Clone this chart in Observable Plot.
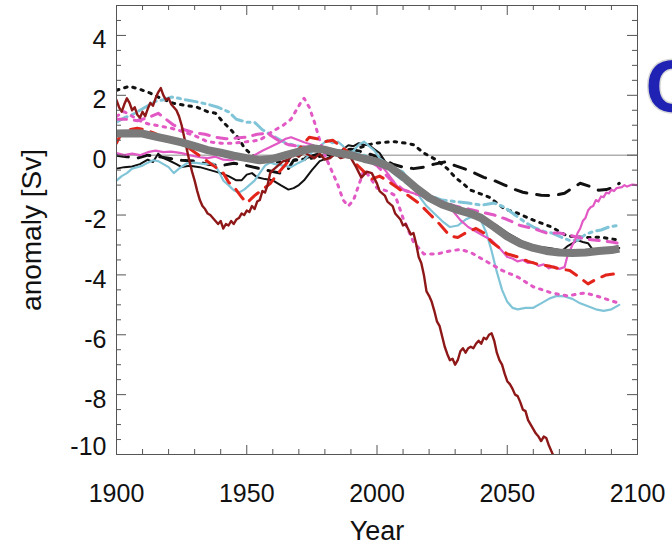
<!DOCTYPE html>
<html>
<head>
<meta charset="utf-8">
<script src="https://cdn.jsdelivr.net/npm/d3@7"></script>
<script src="https://cdn.jsdelivr.net/npm/@observablehq/plot@0.6"></script>
<style>
  html, body { margin: 0; padding: 0; background: #fff; }
  #chart { width: 672px; height: 544px; }
</style>
</head>
<body>
<div id="chart"></div>
<script>
// ---- data: [year, anomaly Sv] ----
const darkRedSolid = [
  [1900,1.84],[1901,1.6],[1902,1.45],[1903,1.7],[1904,1.9],[1905,1.75],[1906,1.5],[1907,1.6],[1908,1.35],[1909,1.25],
  [1910,1.45],[1911,1.3],[1912,1.55],[1913,1.75],[1914,1.65],[1915,1.9],[1916,2.1],[1917,2.24],[1918,2.0],[1919,1.85],
  [1920,1.9],[1921,1.7],[1922,1.6],[1923,1.5],[1924,1.3],[1925,1.0],[1926,0.6],[1927,0.2],[1928,-0.2],[1929,-0.55],
  [1930,-0.85],[1931,-1.2],[1932,-1.5],[1933,-1.7],[1934,-1.8],[1935,-1.95],[1936,-2.0],[1937,-2.1],[1938,-2.2],[1939,-2.3],
  [1940,-2.2],[1941,-2.45],[1942,-2.3],[1943,-2.35],[1944,-2.2],[1945,-2.3],[1946,-2.15],[1947,-2.1],[1948,-1.95],[1949,-2.0],
  [1950,-1.85],[1951,-1.9],[1952,-1.7],[1953,-1.8],[1954,-1.55],[1955,-1.5],[1956,-1.2],[1957,-1.25],[1958,-1.0],[1959,-0.6],
  [1960,-0.5],[1962,-0.35],[1964,-0.2],[1966,-0.15],[1968,0.05],[1970,-0.05],[1972,0.1],[1974,0.0],[1976,-0.1],[1978,0.05],
  [1980,-0.15],[1982,-0.1],[1984,0.05],[1986,-0.1],[1988,-0.05],[1990,-0.1],[1992,-0.4],[1994,-0.75],[1996,-0.55],[1998,-0.6],
  [2000,-0.95],[2001,-1.2],[2003,-1.35],[2004,-1.55],[2006,-1.7],[2007,-1.95],[2009,-2.15],[2010,-2.35],[2011,-2.3],[2013,-2.65],
  [2014,-2.6],[2015,-2.95],[2016,-3.4],[2017,-3.6],[2018,-4.0],[2019,-4.55],[2020,-4.7],[2021,-4.9],[2022,-5.2],[2023,-5.55],
  [2024,-5.7],[2025,-6.05],[2026,-6.4],[2027,-6.65],[2028,-6.85],[2029,-6.8],[2030,-7.0],[2031,-6.85],[2032,-6.55],[2033,-6.45],
  [2034,-6.6],[2035,-6.45],[2036,-6.4],[2037,-6.45],[2038,-6.3],[2039,-6.2],[2040,-6.3],[2041,-6.1],[2042,-6.15],[2043,-6.0],
  [2044,-5.95],[2045,-6.2],[2046,-6.6],[2047,-6.85],[2048,-7.0],[2049,-7.3],[2050,-7.55],[2051,-7.65],[2052,-7.8],[2053,-8.0],
  [2054,-8.05],[2055,-8.25],[2056,-8.5],[2057,-8.55],[2058,-8.85],[2059,-9.0],[2060,-9.15],[2061,-9.3],[2062,-9.4],[2063,-9.55],
  [2064,-9.4],[2065,-9.45],[2066,-9.7],[2067,-9.9],[2068,-10.1],[2069,-10.4]
];
const redDashed = [
  [1900,0.4],[1902,0.75],[1905,0.85],[1908,0.9],[1911,0.85],[1914,0.75],[1918,0.6],[1922,0.5],[1926,0.35],[1930,0.1],
  [1934,-0.15],[1938,-0.4],[1941,-0.6],[1943,-0.9],[1945,-1.05],[1948,-1.4],[1950,-1.6],[1953,-1.35],[1956,-1.15],[1959,-0.95],
  [1962,-0.6],[1965,-0.3],[1968,0.0],[1971,0.3],[1974,0.6],[1977,0.55],[1980,0.45],[1983,0.5],[1986,0.3],[1989,0.1],
  [1992,-0.3],[1995,-0.55],[1998,-0.8],[2001,-0.7],[2004,-0.85],[2008,-1.1],[2012,-1.35],[2016,-1.6],[2020,-1.95],[2024,-2.3],
  [2028,-2.7],[2031,-2.75],[2035,-2.55],[2038,-2.45],[2041,-2.6],[2044,-2.9],[2047,-3.1],[2050,-3.3],[2054,-3.4],[2058,-3.55],
  [2062,-3.65],[2066,-3.7],[2070,-3.8],[2074,-3.85],[2078,-4.1],[2081,-4.3],[2084,-4.15],[2088,-4.0],[2093,-3.95]
];
const blueSolid = [
  [1900,-0.85],[1902,-0.7],[1904,-0.6],[1906,-0.45],[1908,-0.4],[1910,-0.35],[1912,-0.25],[1914,-0.17],[1916,-0.2],[1918,-0.3],
  [1920,-0.4],[1922,-0.6],[1924,-0.45],[1927,-0.27],[1930,-0.25],[1934,-0.3],[1937,-0.27],[1939,-0.5],[1941,-0.85],[1943,-1.0],
  [1945,-1.17],[1947,-1.25],[1949,-1.15],[1951,-1.0],[1953,-0.85],[1955,-0.6],[1957,-0.35],[1959,-0.25],[1961,-0.3],[1964,-0.35],
  [1967,-0.4],[1970,-0.25],[1972,-0.17],[1975,0.1],[1978,0.3],[1981,0.5],[1983,0.4],[1985,0.45],[1987,0.3],[1989,0.05],
  [1991,0.15],[1993,0.35],[1995,0.45],[1997,0.3],[1999,0.15],[2001,-0.1],[2004,-0.3],[2007,-0.45],[2010,-0.55],[2013,-0.95],
  [2016,-1.35],[2019,-1.7],[2022,-1.95],[2025,-2.2],[2028,-2.4],[2031,-2.35],[2034,-2.15],[2036,-2.07],[2038,-2.1],[2040,-2.2],
  [2042,-2.6],[2044,-3.2],[2046,-3.9],[2048,-4.5],[2050,-4.9],[2052,-5.1],[2054,-5.15],[2057,-5.1],[2060,-5.1],[2063,-4.95],
  [2066,-4.8],[2069,-4.7],[2072,-4.72],[2075,-4.8],[2078,-4.95],[2081,-5.05],[2084,-5.15],[2087,-5.2],[2090,-5.15],[2093,-5.0]
];
const blueDashDot = [
  [1900,1.1],[1903,1.25],[1906,1.35],[1909,1.5],[1912,1.65],[1915,1.8],[1918,1.85],[1921,1.94],[1924,1.9],[1927,1.84],
  [1931,1.78],[1935,1.7],[1939,1.6],[1943,1.45],[1946,1.2],[1950,1.1],[1953,1.1],[1956,0.85],[1959,0.7],[1962,0.55],
  [1965,0.4],[1970,0.3],[1975,0.2],[1980,0.25],[1985,0.15],[1990,0.1],[1995,0.0],[2000,-0.2],[2005,-0.5],[2010,-0.85],
  [2015,-1.15],[2020,-1.35],[2025,-1.5],[2030,-1.55],[2035,-1.6],[2040,-1.67],[2045,-1.6],[2049,-1.74],[2053,-2.0],[2057,-2.25],
  [2060,-2.4],[2064,-2.55],[2067,-2.6],[2071,-2.75],[2074,-2.85],[2077,-2.84],[2080,-2.65],[2083,-2.55],[2086,-2.5],[2089,-2.4],
  [2093,-2.34]
];
const magentaSolid = [
  [1900,0.07],[1903,0.0],[1906,0.05],[1909,0.0],[1912,0.1],[1915,0.15],[1918,0.1],[1921,0.12],[1925,0.07],[1928,0.0],
  [1932,-0.07],[1935,-0.1],[1938,-0.05],[1941,-0.15],[1944,-0.17],[1947,-0.1],[1950,-0.15],[1953,0.0],[1956,0.15],[1959,0.27],
  [1962,0.4],[1965,0.55],[1967,0.6],[1970,0.5],[1972,0.43],[1975,0.35],[1977,0.27],[1980,0.2],[1983,0.1],[1986,0.07],
  [1989,0.1],[1992,0.0],[1995,-0.05],[1998,-0.1],[2001,-0.27],[2004,-0.6],[2008,-1.07],[2011,-1.2],[2014,-1.27],[2017,-1.35],
  [2020,-1.5],[2023,-1.6],[2026,-1.7],[2029,-1.85],[2032,-2.17],[2035,-2.4],[2038,-2.55],[2041,-2.7],[2044,-2.84],[2047,-3.1],
  [2050,-3.4],[2052,-3.45],[2054,-3.55],[2056,-3.5],[2058,-3.6],[2060,-3.58],[2062,-3.7],[2064,-3.65],[2066,-3.78],[2068,-3.72],
  [2070,-3.8],[2072,-3.74],[2073,-3.4],[2074,-3.2],[2075,-3.0],[2076,-2.85],[2077,-2.6],[2078,-2.45],[2079,-2.2],[2080,-2.1],
  [2081,-1.85],[2082,-1.74],[2083,-1.7],[2084,-1.5],[2085,-1.55],[2086,-1.38],[2087,-1.4],[2088,-1.25],[2089,-1.28],[2090,-1.15],
  [2091,-1.2],[2092,-1.1],[2094,-1.07],[2095,-1.0],[2096,-1.05],[2098,-0.98],[2100,-1.0]
];
const magentaDotted = [
  [1900,1.3],[1903,1.45],[1906,1.3],[1909,1.15],[1912,1.05],[1915,1.0],[1918,0.95],[1921,0.9],[1925,0.8],[1930,0.65],
  [1935,0.45],[1940,0.4],[1945,0.4],[1950,0.45],[1955,0.5],[1960,0.8],[1964,1.0],[1967,1.2],[1969,1.5],[1971,1.8],
  [1972,1.9],[1974,1.6],[1976,1.1],[1978,0.5],[1980,0.0],[1982,-0.4],[1985,-1.0],[1987,-1.5],[1989,-1.7],[1991,-1.5],
  [1993,-1.0],[1995,-0.5],[1997,-0.7],[2000,-1.1],[2004,-1.2],[2007,-1.35],[2010,-2.1],[2014,-2.9],[2018,-3.3],[2023,-3.3],
  [2028,-3.2],[2032,-3.15],[2036,-3.25],[2040,-3.45],[2044,-3.65],[2048,-3.85],[2054,-4.07],[2060,-4.4],[2067,-4.6],[2073,-4.7],
  [2080,-4.6],[2086,-4.75],[2093,-4.95]
];
const magentaDashed = [
  [1900,1.2],[1904,1.2],[1908,1.15],[1912,1.25],[1916,1.4],[1919,1.2],[1922,1.0],[1926,0.85],[1930,0.75],[1934,0.7],
  [1938,0.6],[1942,0.55],[1946,0.57],[1950,0.6],[1954,0.7],[1958,0.73],[1962,0.5],[1966,0.35],[1970,0.3],[1975,0.25],
  [1980,0.2],[1985,0.1],[1990,0.0],[1995,-0.1],[2000,-0.35],[2005,-0.8],[2010,-1.15],[2015,-1.3],[2020,-1.4],[2025,-1.55],
  [2030,-1.7],[2035,-1.8],[2040,-1.9],[2045,-2.0],[2050,-2.15],[2055,-2.35],[2060,-2.45],[2065,-2.6],[2070,-2.6],[2075,-2.7],
  [2080,-2.8],[2085,-2.85],[2090,-2.9],[2093,-2.95]
];
const blackSolid = [
  [1900,-0.45],[1903,-0.4],[1906,-0.38],[1909,-0.3],[1912,-0.15],[1914,-0.23],[1916,0.05],[1918,-0.1],[1920,-0.17],[1923,-0.3],
  [1925,-0.4],[1928,-0.35],[1932,-0.4],[1936,-0.5],[1940,-0.6],[1943,-0.7],[1946,-0.84],[1948,-0.84],[1950,-0.65],[1952,-0.6],
  [1954,-0.74],[1957,-0.8],[1960,-0.84],[1963,-1.0],[1966,-1.15],[1968,-1.1],[1970,-1.0],[1972,-0.84],[1975,-0.5],[1978,-0.2],
  [1981,-0.1],[1985,0.07],[1987,0.2],[1989,0.33],[1991,0.3],[1993,0.4],[1995,0.35],[1997,0.33],[1999,0.2],[2001,0.07],
  [2003,-0.2],[2006,-0.45],[2010,-0.75],[2015,-1.1],[2020,-1.45],[2025,-1.65],[2030,-1.75],[2035,-1.9],[2040,-2.05],[2046,-2.35],
  [2051,-2.65],[2056,-2.9],[2061,-3.05],[2066,-3.1],[2069,-3.15],[2071,-3.2],[2073,-3.05],[2075,-2.95],[2077,-2.84],[2079,-2.9],
  [2081,-2.94],[2083,-3.18],[2086,-3.2],[2089,-3.24],[2091,-3.15],[2093,-3.1]
];
const blackDashed = [
  [1900,0.0],[1904,-0.05],[1908,-0.1],[1912,0.0],[1916,-0.05],[1920,-0.1],[1925,-0.17],[1930,-0.2],[1935,-0.3],[1940,-0.35],
  [1945,-0.27],[1950,-0.35],[1955,-0.45],[1960,-0.55],[1963,-0.6],[1966,-0.45],[1968,-0.17],[1972,-0.1],[1976,0.0],[1980,0.1],
  [1985,0.15],[1990,0.2],[1995,0.1],[2000,-0.05],[2003,-0.17],[2006,-0.3],[2010,-0.4],[2014,-0.45],[2018,-0.4],[2022,-0.3],
  [2026,-0.23],[2030,-0.35],[2035,-0.5],[2041,-0.74],[2045,-0.85],[2049,-1.0],[2053,-1.15],[2056,-1.24],[2060,-1.3],[2063,-1.34],
  [2068,-1.35],[2072,-1.27],[2075,-1.1],[2078,-0.94],[2082,-1.05],[2085,-1.17],[2088,-1.15],[2091,-1.07],[2093,-0.94]
];
const blackDotted = [
  [1900,2.17],[1903,2.25],[1905,2.3],[1909,2.2],[1913,2.07],[1917,1.9],[1922,1.73],[1926,1.67],[1931,1.6],[1935,1.45],
  [1938,1.4],[1941,1.1],[1944,0.84],[1947,0.55],[1949,0.25],[1952,0.0],[1955,-0.15],[1960,-0.25],[1965,-0.2],[1970,-0.15],
  [1975,-0.1],[1980,0.0],[1985,0.05],[1990,0.15],[1995,0.3],[1999,0.4],[2003,0.43],[2007,0.45],[2011,0.4],[2014,0.35],
  [2018,0.07],[2023,-0.17],[2027,-0.45],[2030,-0.74],[2033,-0.95],[2036,-1.17],[2040,-1.3],[2043,-1.4],[2046,-1.6],[2049,-1.8],
  [2054,-1.94],[2060,-2.17],[2067,-2.4],[2073,-2.7],[2080,-2.75],[2086,-2.74],[2093,-2.84]
];
const grayMean = [
  [1900,0.72],[1905,0.73],[1910,0.72],[1915,0.62],[1920,0.53],[1925,0.43],[1930,0.3],[1935,0.17],[1940,0.08],[1945,-0.02],
  [1950,-0.1],[1955,-0.17],[1960,-0.12],[1965,0.0],[1970,0.12],[1975,0.23],[1980,0.18],[1985,0.07],[1990,0.0],[1995,-0.12],
  [2000,-0.22],[2005,-0.4],[2010,-0.72],[2015,-1.1],[2020,-1.42],[2025,-1.65],[2030,-1.8],[2036,-1.95],[2040,-2.1],[2045,-2.4],
  [2050,-2.72],[2055,-2.95],[2060,-3.1],[2065,-3.2],[2070,-3.25],[2075,-3.27],[2080,-3.25],[2085,-3.2],[2090,-3.17],[2093,-3.12]
];

// ---- ticks ----
const xMajor = [1900, 1950, 2000, 2050, 2100];
const xMinor = [1910,1920,1930,1940,1960,1970,1980,1990,2010,2020,2030,2040,2060,2070,2080,2090];
const yMajor = [-10, -8, -6, -4, -2, 0, 2, 4];
const yMinor = d3.range(-10, 5.01, 0.5).filter(v => !yMajor.includes(v));

// ---- geometry helpers (pixel lengths -> data units) ----
const ML = 116, MR = 35, MT = 5, MB = 90, W = 672, H = 544;
const xUnit = 200 / (W - ML - MR);
const yUnit = 15 / (H - MT - MB);
const tk = "#555";
const magenta = "#e258c4";

const line = (data, opts) => Plot.line(data, {x: d => d[0], y: d => d[1], clip: true, strokeLinejoin: "round", ...opts});

const chart = Plot.plot({
  width: W, height: H,
  marginLeft: ML, marginRight: MR, marginTop: MT, marginBottom: MB,
  x: {domain: [1900, 2100]},
  y: {domain: [-10, 5]},
  style: {fontFamily: "'Liberation Sans', Arial, Helvetica, sans-serif", fontSize: "25px", background: "#fff", color: "#111"},
  marks: [
    Plot.ruleY([0], {stroke: "#888", strokeWidth: 1}),
    // data lines
    line(blackDotted, {stroke: "#111", strokeWidth: 3, strokeDasharray: "2.5,6"}),
    line(blackDashed, {stroke: "#111", strokeWidth: 3, strokeDasharray: "12,10"}),
    line(blackSolid, {stroke: "#111", strokeWidth: 2}),
    line(blueDashDot, {stroke: "#80c4d8", strokeWidth: 3, strokeDasharray: "12,5,3,5"}),
    line(blueSolid, {stroke: "#80c4d8", strokeWidth: 2.2}),
    line(magentaDotted, {stroke: magenta, strokeWidth: 3, strokeDasharray: "2.5,6"}),
    line(magentaDashed, {stroke: magenta, strokeWidth: 3, strokeDasharray: "10,8"}),
    line(magentaSolid, {stroke: magenta, strokeWidth: 2.2}),
    line(redDashed, {stroke: "#e3241b", strokeWidth: 3, strokeDasharray: "12,9"}),
    line(darkRedSolid, {stroke: "#8e1818", strokeWidth: 2.4}),
    line(grayMean, {stroke: "#7a7a7a", strokeWidth: 8, strokeLinecap: "butt"}),
    // frame and inward ticks
    Plot.frame({stroke: tk, strokeWidth: 1}),
    Plot.ruleY(yMajor, {y: d => d, x1: 1900, x2: 1900 + 10 * xUnit, stroke: tk}),
    Plot.ruleY(yMinor, {y: d => d, x1: 1900, x2: 1900 + 5 * xUnit, stroke: tk}),
    Plot.ruleY(yMajor, {y: d => d, x1: 2100 - 10 * xUnit, x2: 2100, stroke: tk}),
    Plot.ruleY(yMinor, {y: d => d, x1: 2100 - 5 * xUnit, x2: 2100, stroke: tk}),
    Plot.ruleX(xMajor, {x: d => d, y1: -10, y2: -10 + 9 * yUnit, stroke: tk}),
    Plot.ruleX(xMinor, {x: d => d, y1: -10, y2: -10 + 5 * yUnit, stroke: tk}),
    Plot.ruleX(xMajor, {x: d => d, y1: 5 - 10 * yUnit, y2: 5, stroke: tk}),
    Plot.ruleX(xMinor, {x: d => d, y1: 5 - 5 * yUnit, y2: 5, stroke: tk}),
    // axes labels
    Plot.axisX({ticks: xMajor, tickSize: 0, tickPadding: 30, tickFormat: d => String(d), fill: "#111", label: null}),
    Plot.axisY({ticks: yMajor.filter(v => v !== -10), tickSize: 0, tickPadding: 10, dy: 5, tickFormat: d => String(d), fill: "#111", label: null}),
    Plot.axisY({ticks: [-10], tickSize: 0, tickPadding: 10, dy: -8, tickFormat: d => String(d), fill: "#111", label: null}),
    Plot.text(["Year"], {frameAnchor: "bottom", dy: 85, lineAnchor: "bottom", textAnchor: "middle", fontSize: 27, fill: "#111"}),
    Plot.text(["anomaly [Sv]"], {frameAnchor: "left", dx: -84, rotate: -90, textAnchor: "middle", lineAnchor: "middle", fontSize: 28, fill: "#111"}),
    // cut-off slide letter at right edge
    Plot.text(["C"], {frameAnchor: "top-right", dx: 8, dy: 106, textAnchor: "start", lineAnchor: "bottom", fontSize: 74, fontWeight: "bold", fill: "#1f22b2", stroke: "#d8d8d8", strokeWidth: 3, paintOrder: "stroke"})
  ]
});
document.getElementById("chart").appendChild(chart);
</script>
</body>
</html>
